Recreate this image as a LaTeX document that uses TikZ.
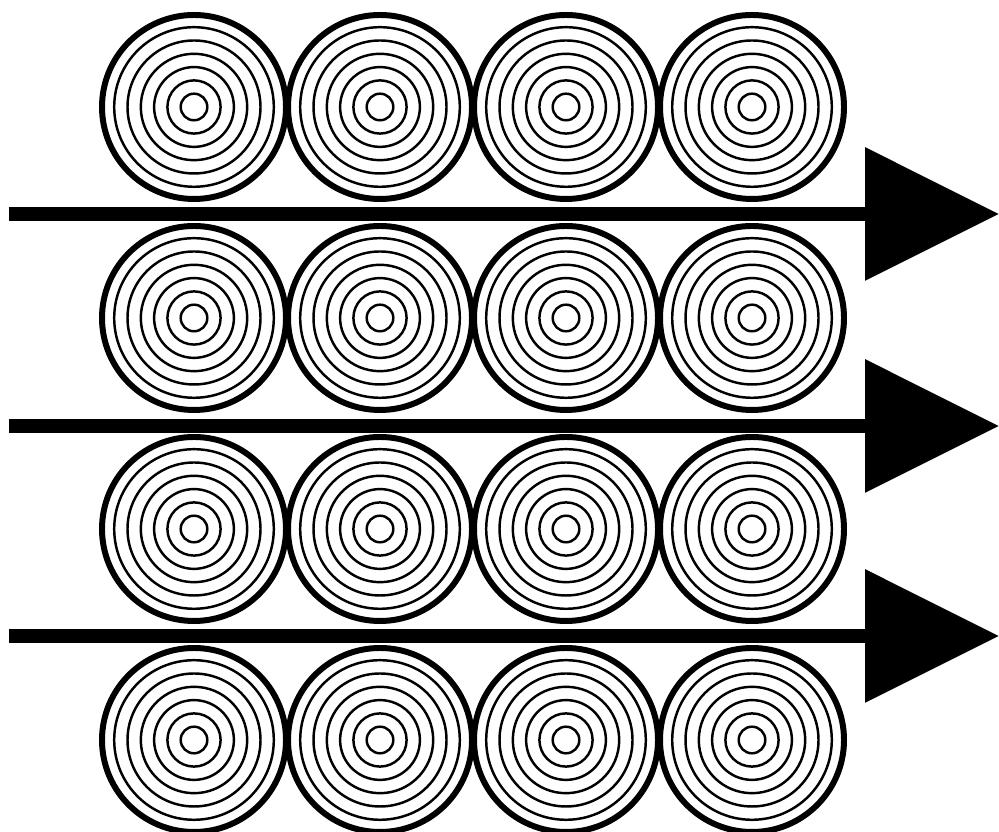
\documentclass[tikz,border=0pt]{standalone}
\usepackage{tikz}
\usetikzlibrary{arrows.meta}

\tikzset{
  log/.style={circle, draw=black, line width=1.7pt, minimum size=1.84cm, inner sep=0pt},
  ring/.style={draw=black, line width=0.7pt},
  flow/.style={line width=4pt, -{Triangle[length=1.34cm, width=1.30cm]}}
}

\begin{document}
\begin{tikzpicture}
  \useasboundingbox (0, 0) rectangle (9.99, 8.32);

  % Logs, four rows of four
  \foreach \r/\y in {1/7.25, 2/5.14, 3/3.03, 4/0.92} {
    \foreach \c/\x in {1/1.94, 2/3.80, 3/5.66, 4/7.52} {
      \node[log] (log-\r-\c) at (\x, \y) {};
      \foreach \k in {1, ..., 6}
        \draw[ring] (log-\r-\c.center) circle ({0.133*\k});
    }
  }

  % Flow arrows between the rows
  \foreach \i/\y in {1/6.18, 2/4.06, 3/1.96} {
    \coordinate (flow-\i-start) at (0.09, \y);
    \coordinate (flow-\i-end) at (9.99, \y);
    \draw[flow] (flow-\i-start) -- (flow-\i-end);
  }
\end{tikzpicture}
\end{document}
